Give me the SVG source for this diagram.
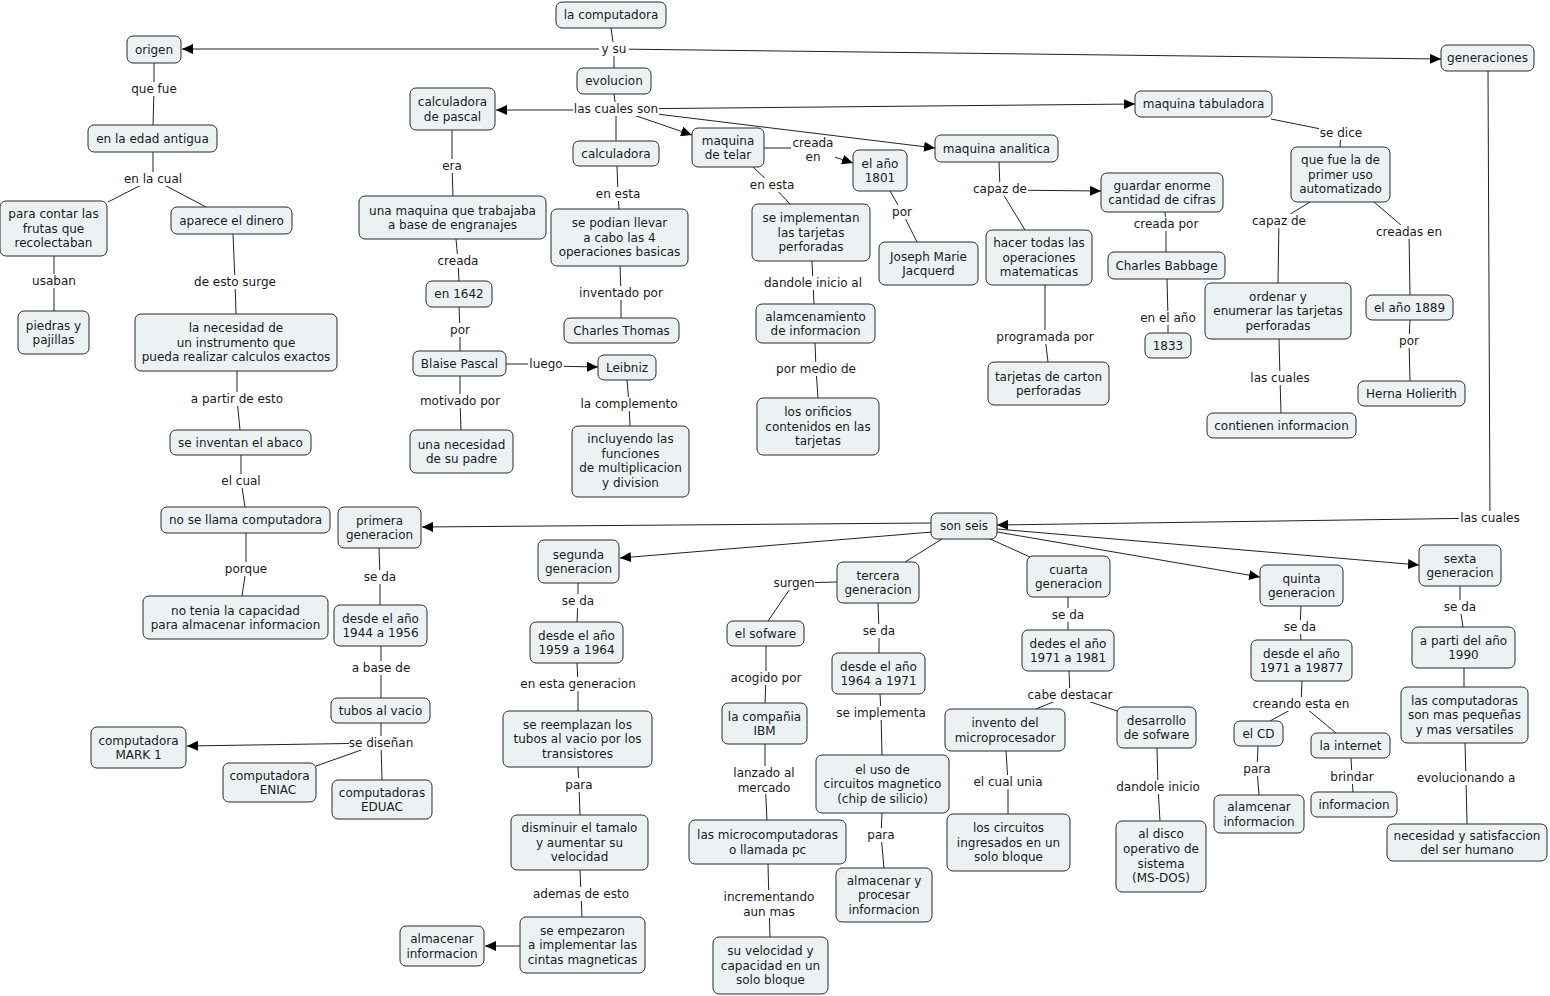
<svg xmlns="http://www.w3.org/2000/svg" width="1550" height="996" viewBox="0 0 1550 996">
<style>
text{font-family:"DejaVu Sans",Verdana,sans-serif;font-size:12px;fill:#1a1a1a;text-anchor:middle}
.n rect{fill:#ECF2F4;stroke:#2b2b2b;stroke-width:1}
.lp rect{fill:#ffffff}
#connectors line{stroke:#222;stroke-width:1;fill:none}
#connectors line.a{marker-end:url(#ar)}
</style>
<defs>
<marker id="ar" markerUnits="userSpaceOnUse" markerWidth="12" markerHeight="10" refX="11" refY="5" orient="auto"><path d="M0,0 L11,5 L0,10 z" fill="#000"/></marker>
</defs>
<rect width="1550" height="996" fill="#fff"/>
<g id="connectors">
<line x1="611" y1="28" x2="614" y2="49"/>
<line class="a" x1="614" y1="49" x2="182" y2="49"/>
<line x1="614" y1="49" x2="614" y2="68"/>
<line class="a" x1="614" y1="49" x2="1441" y2="59"/>
<line x1="154" y1="63" x2="154" y2="89"/>
<line x1="154" y1="89" x2="153" y2="125"/>
<line x1="153" y1="152" x2="153" y2="179"/>
<line x1="153" y1="179" x2="108" y2="202"/>
<line x1="153" y1="179" x2="206" y2="207"/>
<line x1="54" y1="256" x2="54" y2="281"/>
<line x1="54" y1="281" x2="54" y2="311"/>
<line x1="233" y1="234" x2="235" y2="282"/>
<line x1="235" y1="282" x2="236" y2="314"/>
<line x1="237" y1="371" x2="237" y2="399"/>
<line x1="237" y1="399" x2="240" y2="430"/>
<line x1="241" y1="455" x2="241" y2="481"/>
<line x1="241" y1="481" x2="245" y2="507"/>
<line x1="246" y1="533" x2="246" y2="569"/>
<line x1="246" y1="569" x2="242" y2="596"/>
<line x1="614" y1="94" x2="616" y2="109"/>
<line class="a" x1="616" y1="110" x2="496" y2="110"/>
<line x1="616" y1="109" x2="616" y2="141"/>
<line class="a" x1="616" y1="109" x2="692" y2="135"/>
<line class="a" x1="616" y1="109" x2="935" y2="148"/>
<line class="a" x1="616" y1="109" x2="1135" y2="104"/>
<line x1="452" y1="130" x2="452" y2="166"/>
<line x1="452" y1="166" x2="453" y2="196"/>
<line x1="456" y1="239" x2="458" y2="261"/>
<line x1="458" y1="261" x2="459" y2="281"/>
<line x1="459" y1="307" x2="460" y2="330"/>
<line x1="460" y1="330" x2="460" y2="351"/>
<line x1="506" y1="364" x2="546" y2="364"/>
<line class="a" x1="546" y1="366" x2="598" y2="367"/>
<line x1="460" y1="376" x2="460" y2="401"/>
<line x1="460" y1="401" x2="461" y2="430"/>
<line x1="627" y1="380" x2="629" y2="404"/>
<line x1="629" y1="404" x2="630" y2="426"/>
<line x1="617" y1="166" x2="618" y2="194"/>
<line x1="618" y1="194" x2="619" y2="209"/>
<line x1="620" y1="266" x2="621" y2="293"/>
<line x1="621" y1="293" x2="621" y2="318"/>
<line x1="764" y1="148" x2="813" y2="148"/>
<line class="a" x1="813" y1="150" x2="853" y2="163"/>
<line x1="753" y1="167" x2="772" y2="185"/>
<line x1="772" y1="185" x2="790" y2="204"/>
<line x1="812" y1="261" x2="813" y2="283"/>
<line x1="813" y1="283" x2="814" y2="304"/>
<line x1="815" y1="343" x2="816" y2="369"/>
<line x1="816" y1="369" x2="818" y2="398"/>
<line x1="890" y1="191" x2="902" y2="212"/>
<line x1="902" y1="212" x2="917" y2="242"/>
<line x1="999" y1="162" x2="1000" y2="189"/>
<line class="a" x1="1000" y1="190" x2="1101" y2="191"/>
<line x1="1000" y1="189" x2="1025" y2="230"/>
<line x1="1165" y1="212" x2="1166" y2="224"/>
<line x1="1166" y1="224" x2="1166" y2="252"/>
<line x1="1167" y1="279" x2="1168" y2="318"/>
<line x1="1168" y1="318" x2="1168" y2="333"/>
<line x1="1045" y1="285" x2="1045" y2="337"/>
<line x1="1045" y1="337" x2="1048" y2="362"/>
<line x1="1271" y1="119" x2="1341" y2="133"/>
<line x1="1341" y1="133" x2="1340" y2="147"/>
<line x1="1310" y1="202" x2="1279" y2="221"/>
<line x1="1279" y1="221" x2="1278" y2="283"/>
<line x1="1374" y1="202" x2="1409" y2="232"/>
<line x1="1409" y1="232" x2="1410" y2="295"/>
<line x1="1410" y1="320" x2="1409" y2="341"/>
<line x1="1409" y1="341" x2="1410" y2="381"/>
<line x1="1279" y1="339" x2="1280" y2="378"/>
<line x1="1280" y1="378" x2="1281" y2="413"/>
<line x1="1488" y1="71" x2="1490" y2="518"/>
<line class="a" x1="1490" y1="518" x2="997" y2="525"/>
<line class="a" x1="931" y1="523" x2="422" y2="527"/>
<line class="a" x1="932" y1="532" x2="620" y2="558"/>
<line x1="942" y1="539" x2="905" y2="562"/>
<line x1="988" y1="538" x2="1030" y2="557"/>
<line class="a" x1="997" y1="532" x2="1260" y2="577"/>
<line class="a" x1="997" y1="529" x2="1419" y2="565"/>
<line x1="379" y1="548" x2="380" y2="577"/>
<line x1="380" y1="577" x2="380" y2="605"/>
<line x1="381" y1="646" x2="381" y2="668"/>
<line x1="381" y1="668" x2="381" y2="698"/>
<line x1="381" y1="723" x2="381" y2="743"/>
<line class="a" x1="381" y1="743" x2="187" y2="746"/>
<line x1="381" y1="743" x2="316" y2="766"/>
<line x1="381" y1="743" x2="382" y2="780"/>
<line x1="578" y1="583" x2="578" y2="601"/>
<line x1="578" y1="601" x2="577" y2="622"/>
<line x1="577" y1="663" x2="578" y2="684"/>
<line x1="578" y1="684" x2="578" y2="711"/>
<line x1="578" y1="767" x2="579" y2="785"/>
<line x1="579" y1="785" x2="580" y2="815"/>
<line x1="580" y1="870" x2="581" y2="894"/>
<line x1="581" y1="894" x2="582" y2="917"/>
<line class="a" x1="520" y1="946" x2="485" y2="946"/>
<line x1="837" y1="582" x2="794" y2="583"/>
<line x1="794" y1="583" x2="768" y2="621"/>
<line x1="878" y1="603" x2="879" y2="631"/>
<line x1="879" y1="631" x2="879" y2="653"/>
<line x1="766" y1="646" x2="766" y2="678"/>
<line x1="766" y1="678" x2="765" y2="703"/>
<line x1="765" y1="744" x2="765" y2="780"/>
<line x1="765" y1="780" x2="767" y2="820"/>
<line x1="768" y1="864" x2="769" y2="904"/>
<line x1="769" y1="904" x2="770" y2="937"/>
<line x1="880" y1="694" x2="881" y2="713"/>
<line x1="881" y1="713" x2="882" y2="755"/>
<line x1="882" y1="813" x2="881" y2="835"/>
<line x1="881" y1="835" x2="884" y2="868"/>
<line x1="1068" y1="597" x2="1068" y2="615"/>
<line x1="1068" y1="615" x2="1068" y2="630"/>
<line x1="1069" y1="671" x2="1070" y2="695"/>
<line x1="1070" y1="695" x2="1036" y2="709"/>
<line x1="1070" y1="695" x2="1126" y2="714"/>
<line x1="1006" y1="751" x2="1008" y2="782"/>
<line x1="1008" y1="782" x2="1008" y2="814"/>
<line x1="1157" y1="748" x2="1158" y2="787"/>
<line x1="1158" y1="787" x2="1160" y2="821"/>
<line x1="1301" y1="606" x2="1300" y2="627"/>
<line x1="1300" y1="627" x2="1301" y2="640"/>
<line x1="1302" y1="681" x2="1301" y2="704"/>
<line x1="1301" y1="704" x2="1270" y2="721"/>
<line x1="1301" y1="704" x2="1336" y2="733"/>
<line x1="1258" y1="746" x2="1257" y2="769"/>
<line x1="1257" y1="769" x2="1259" y2="795"/>
<line x1="1351" y1="758" x2="1352" y2="777"/>
<line x1="1352" y1="777" x2="1353" y2="792"/>
<line x1="1460" y1="586" x2="1460" y2="607"/>
<line x1="1460" y1="607" x2="1463" y2="627"/>
<line x1="1464" y1="668" x2="1464" y2="687"/>
<line x1="1465" y1="743" x2="1466" y2="778"/>
<line x1="1466" y1="778" x2="1467" y2="824"/>
</g>
<g id="linking-phrases">
<g class="lp"><rect x="599" y="42" width="30" height="14"/><text x="614" y="53">y su</text></g>
<g class="lp"><rect x="130" y="82" width="48" height="14"/><text x="154" y="93">que fue</text></g>
<g class="lp"><rect x="122" y="172" width="62" height="14"/><text x="153" y="183">en la cual</text></g>
<g class="lp"><rect x="31" y="274" width="46" height="14"/><text x="54" y="285">usaban</text></g>
<g class="lp"><rect x="193" y="275" width="84" height="14"/><text x="235" y="286">de esto surge</text></g>
<g class="lp"><rect x="189" y="392" width="96" height="14"/><text x="237" y="403">a partir de esto</text></g>
<g class="lp"><rect x="220" y="474" width="42" height="14"/><text x="241" y="485">el cual</text></g>
<g class="lp"><rect x="224" y="562" width="44" height="14"/><text x="246" y="573">porque</text></g>
<g class="lp"><rect x="573" y="102" width="86" height="14"/><text x="616" y="113">las cuales son</text></g>
<g class="lp"><rect x="441" y="159" width="22" height="14"/><text x="452" y="170">era</text></g>
<g class="lp"><rect x="436" y="254" width="44" height="14"/><text x="458" y="265">creada</text></g>
<g class="lp"><rect x="449" y="323" width="22" height="14"/><text x="460" y="334">por</text></g>
<g class="lp"><rect x="528" y="357" width="36" height="14"/><text x="546" y="368">luego</text></g>
<g class="lp"><rect x="420" y="394" width="80" height="14"/><text x="460" y="405">motivado por</text></g>
<g class="lp"><rect x="583" y="397" width="92" height="14"/><text x="629" y="408">la complemento</text></g>
<g class="lp"><rect x="595" y="187" width="46" height="14"/><text x="618" y="198">en esta</text></g>
<g class="lp"><rect x="579" y="286" width="84" height="14"/><text x="621" y="297">inventado por</text></g>
<g class="lp"><rect x="791" y="136" width="44" height="28"/><text x="813" y="147">creada</text><text x="813" y="161">en</text></g>
<g class="lp"><rect x="749" y="178" width="46" height="14"/><text x="772" y="189">en esta</text></g>
<g class="lp"><rect x="891" y="205" width="22" height="14"/><text x="902" y="216">por</text></g>
<g class="lp"><rect x="761" y="276" width="104" height="14"/><text x="813" y="287">dandole inicio al</text></g>
<g class="lp"><rect x="777" y="362" width="78" height="14"/><text x="816" y="373">por medio de</text></g>
<g class="lp"><rect x="972" y="182" width="56" height="14"/><text x="1000" y="193">capaz de</text></g>
<g class="lp"><rect x="1133" y="217" width="66" height="14"/><text x="1166" y="228">creada por</text></g>
<g class="lp"><rect x="1139" y="311" width="58" height="14"/><text x="1168" y="322">en el año</text></g>
<g class="lp"><rect x="999" y="330" width="92" height="14"/><text x="1045" y="341">programada por</text></g>
<g class="lp"><rect x="1319" y="126" width="44" height="14"/><text x="1341" y="137">se dice</text></g>
<g class="lp"><rect x="1251" y="214" width="56" height="14"/><text x="1279" y="225">capaz de</text></g>
<g class="lp"><rect x="1376" y="225" width="66" height="14"/><text x="1409" y="236">creadas en</text></g>
<g class="lp"><rect x="1398" y="334" width="22" height="14"/><text x="1409" y="345">por</text></g>
<g class="lp"><rect x="1249" y="371" width="62" height="14"/><text x="1280" y="382">las cuales</text></g>
<g class="lp"><rect x="1459" y="511" width="62" height="14"/><text x="1490" y="522">las cuales</text></g>
<g class="lp"><rect x="363" y="570" width="34" height="14"/><text x="380" y="581">se da</text></g>
<g class="lp"><rect x="352" y="661" width="58" height="14"/><text x="381" y="672">a base de</text></g>
<g class="lp"><rect x="349" y="736" width="64" height="14"/><text x="381" y="747">se diseñan</text></g>
<g class="lp"><rect x="561" y="594" width="34" height="14"/><text x="578" y="605">se da</text></g>
<g class="lp"><rect x="522" y="677" width="112" height="14"/><text x="578" y="688">en esta generacion</text></g>
<g class="lp"><rect x="565" y="778" width="28" height="14"/><text x="579" y="789">para</text></g>
<g class="lp"><rect x="536" y="887" width="90" height="14"/><text x="581" y="898">ademas de esto</text></g>
<g class="lp"><rect x="773" y="576" width="42" height="14"/><text x="794" y="587">surgen</text></g>
<g class="lp"><rect x="862" y="624" width="34" height="14"/><text x="879" y="635">se da</text></g>
<g class="lp"><rect x="731" y="671" width="70" height="14"/><text x="766" y="682">acogido por</text></g>
<g class="lp"><rect x="732" y="766" width="64" height="28"/><text x="764" y="777">lanzado al</text><text x="764" y="792">mercado</text></g>
<g class="lp"><rect x="725" y="890" width="88" height="28"/><text x="769" y="901">incrementando</text><text x="769" y="916">aun mas</text></g>
<g class="lp"><rect x="838" y="706" width="86" height="14"/><text x="881" y="717">se implementa</text></g>
<g class="lp"><rect x="867" y="828" width="28" height="14"/><text x="881" y="839">para</text></g>
<g class="lp"><rect x="1051" y="608" width="34" height="14"/><text x="1068" y="619">se da</text></g>
<g class="lp"><rect x="1029" y="688" width="82" height="14"/><text x="1070" y="699">cabe destacar</text></g>
<g class="lp"><rect x="972" y="775" width="72" height="14"/><text x="1008" y="786">el cual unia</text></g>
<g class="lp"><rect x="1115" y="780" width="86" height="14"/><text x="1158" y="791">dandole inicio</text></g>
<g class="lp"><rect x="1283" y="620" width="34" height="14"/><text x="1300" y="631">se da</text></g>
<g class="lp"><rect x="1253" y="697" width="96" height="14"/><text x="1301" y="708">creando esta en</text></g>
<g class="lp"><rect x="1243" y="762" width="28" height="14"/><text x="1257" y="773">para</text></g>
<g class="lp"><rect x="1329" y="770" width="46" height="14"/><text x="1352" y="781">brindar</text></g>
<g class="lp"><rect x="1443" y="600" width="34" height="14"/><text x="1460" y="611">se da</text></g>
<g class="lp"><rect x="1418" y="771" width="96" height="14"/><text x="1466" y="782">evolucionando a</text></g>
</g>
<g id="n1" class="n"><rect x="556" y="2" width="110" height="26" rx="6"/><text x="611" y="19">la computadora</text></g>
<g id="n2" class="n"><rect x="127" y="36" width="54" height="27" rx="6"/><text x="154" y="53.5">origen</text></g>
<g id="n3" class="n"><rect x="1441" y="45" width="93" height="26" rx="6"/><text x="1487.5" y="62">generaciones</text></g>
<g id="n4" class="n"><rect x="577" y="68" width="74" height="26" rx="6"/><text x="614" y="85">evolucion</text></g>
<g id="n5" class="n"><rect x="410" y="88" width="85" height="42" rx="6"/><text x="452.5" y="106">calculadora</text><text x="452.5" y="120.6">de pascal</text></g>
<g id="n6" class="n"><rect x="1135" y="91" width="137" height="26" rx="6"/><text x="1203.5" y="108">maquina tabuladora</text></g>
<g id="n7" class="n"><rect x="88" y="125" width="129" height="27" rx="6"/><text x="152.5" y="142.5">en la edad antigua</text></g>
<g id="n8" class="n"><rect x="573" y="141" width="86" height="25" rx="6"/><text x="616" y="157.5">calculadora</text></g>
<g id="n9" class="n"><rect x="692" y="128" width="72" height="39" rx="6"/><text x="728" y="144.5">maquina</text><text x="728" y="159.1">de telar</text></g>
<g id="n10" class="n"><rect x="853" y="150" width="54" height="41" rx="6"/><text x="880" y="167.5">el año</text><text x="880" y="182">1801</text></g>
<g id="n11" class="n"><rect x="935" y="135" width="123" height="27" rx="6"/><text x="996.5" y="152.5">maquina analitica</text></g>
<g id="n12" class="n"><rect x="1101" y="173" width="122" height="39" rx="6"/><text x="1162" y="189.5">guardar enorme</text><text x="1162" y="204">cantidad de cifras</text></g>
<g id="n13" class="n"><rect x="1291" y="147" width="99" height="55" rx="6"/><text x="1340.5" y="164.2">que fue la de</text><text x="1340.5" y="178.8">primer uso</text><text x="1340.5" y="193.4">automatizado</text></g>
<g id="n14" class="n"><rect x="0" y="201" width="107" height="55" rx="6"/><text x="53.5" y="218.2">para contar las</text><text x="53.5" y="232.8">frutas que</text><text x="53.5" y="247.4">recolectaban</text></g>
<g id="n15" class="n"><rect x="171" y="207" width="121" height="27" rx="6"/><text x="231.5" y="224.5">aparece el dinero</text></g>
<g id="n16" class="n"><rect x="359" y="196" width="187" height="43" rx="6"/><text x="452.5" y="214.5">una maquina que trabajaba</text><text x="452.5" y="229.1">a base de engranajes</text></g>
<g id="n17" class="n"><rect x="551" y="209" width="137" height="57" rx="6"/><text x="619.5" y="227.2">se podian llevar</text><text x="619.5" y="241.8">a cabo las 4</text><text x="619.5" y="256.4">operaciones basicas</text></g>
<g id="n18" class="n"><rect x="752" y="204" width="118" height="57" rx="6"/><text x="811" y="222.2">se implementan</text><text x="811" y="236.8">las tarjetas</text><text x="811" y="251.4">perforadas</text></g>
<g id="n19" class="n"><rect x="879" y="242" width="99" height="43" rx="6"/><text x="928.5" y="260.5">Joseph Marie</text><text x="928.5" y="275.1">Jacquerd</text></g>
<g id="n20" class="n"><rect x="986" y="230" width="106" height="55" rx="6"/><text x="1039" y="247.2">hacer todas las</text><text x="1039" y="261.8">operaciones</text><text x="1039" y="276.4">matematicas</text></g>
<g id="n21" class="n"><rect x="1108" y="252" width="117" height="27" rx="6"/><text x="1166.5" y="269.5">Charles Babbage</text></g>
<g id="n22" class="n"><rect x="1205" y="283" width="146" height="56" rx="6"/><text x="1278" y="300.7">ordenar y</text><text x="1278" y="315.3">enumerar las tarjetas</text><text x="1278" y="329.9">perforadas</text></g>
<g id="n23" class="n"><rect x="1366" y="295" width="87" height="25" rx="6"/><text x="1409.5" y="311.5">el año 1889</text></g>
<g id="n24" class="n"><rect x="18" y="311" width="71" height="43" rx="6"/><text x="53.5" y="329.5">piedras y</text><text x="53.5" y="344.1">pajillas</text></g>
<g id="n25" class="n"><rect x="135" y="314" width="202" height="57" rx="6"/><text x="236" y="332.2">la necesidad de</text><text x="236" y="346.8">un instrumento que</text><text x="236" y="361.4">pueda realizar calculos exactos</text></g>
<g id="n26" class="n"><rect x="426" y="281" width="66" height="26" rx="6"/><text x="459" y="298">en 1642</text></g>
<g id="n27" class="n"><rect x="564" y="318" width="115" height="25" rx="6"/><text x="621.5" y="334.5">Charles Thomas</text></g>
<g id="n28" class="n"><rect x="756" y="304" width="119" height="39" rx="6"/><text x="815.5" y="320.5">alamcenamiento</text><text x="815.5" y="335.1">de informacion</text></g>
<g id="n29" class="n"><rect x="1145" y="333" width="46" height="25" rx="6"/><text x="1168" y="349.5">1833</text></g>
<g id="n30" class="n"><rect x="988" y="362" width="121" height="43" rx="6"/><text x="1048.5" y="380.5">tarjetas de carton</text><text x="1048.5" y="395.1">perforadas</text></g>
<g id="n31" class="n"><rect x="413" y="351" width="93" height="25" rx="6"/><text x="459.5" y="367.5">Blaise Pascal</text></g>
<g id="n32" class="n"><rect x="598" y="355" width="58" height="25" rx="6"/><text x="627" y="371.5">Leibniz</text></g>
<g id="n33" class="n"><rect x="1358" y="381" width="107" height="25" rx="6"/><text x="1411.5" y="397.5">Herna Holierith</text></g>
<g id="n34" class="n"><rect x="1207" y="413" width="149" height="25" rx="6"/><text x="1281.5" y="429.5">contienen informacion</text></g>
<g id="n35" class="n"><rect x="170" y="430" width="141" height="25" rx="6"/><text x="240.5" y="446.5">se inventan el abaco</text></g>
<g id="n36" class="n"><rect x="410" y="430" width="103" height="43" rx="6"/><text x="461.5" y="448.5">una necesidad</text><text x="461.5" y="463.1">de su padre</text></g>
<g id="n37" class="n"><rect x="572" y="426" width="117" height="71" rx="6"/><text x="630.5" y="443">incluyendo las</text><text x="630.5" y="457.6">funciones</text><text x="630.5" y="472.2">de multiplicacion</text><text x="630.5" y="486.8">y division</text></g>
<g id="n38" class="n"><rect x="757" y="398" width="122" height="57" rx="6"/><text x="818" y="416.2">los orificios</text><text x="818" y="430.8">contenidos en las</text><text x="818" y="445.4">tarjetas</text></g>
<g id="n39" class="n"><rect x="161" y="507" width="169" height="26" rx="6"/><text x="245.5" y="524">no se llama computadora</text></g>
<g id="n40" class="n"><rect x="338" y="507" width="83" height="41" rx="6"/><text x="379.5" y="524.5">primera</text><text x="379.5" y="539.1">generacion</text></g>
<g id="n41" class="n"><rect x="931" y="513" width="66" height="26" rx="6"/><text x="964" y="530">son seis</text></g>
<g id="n42" class="n"><rect x="538" y="540" width="81" height="43" rx="6"/><text x="578.5" y="558.5">segunda</text><text x="578.5" y="573.1">generacion</text></g>
<g id="n43" class="n"><rect x="837" y="562" width="82" height="41" rx="6"/><text x="878" y="579.5">tercera</text><text x="878" y="594.1">generacion</text></g>
<g id="n44" class="n"><rect x="1027" y="556" width="83" height="41" rx="6"/><text x="1068.5" y="573.5">cuarta</text><text x="1068.5" y="588.1">generacion</text></g>
<g id="n45" class="n"><rect x="1260" y="565" width="83" height="41" rx="6"/><text x="1301.5" y="582.5">quinta</text><text x="1301.5" y="597.1">generacion</text></g>
<g id="n46" class="n"><rect x="1419" y="545" width="82" height="41" rx="6"/><text x="1460" y="562.5">sexta</text><text x="1460" y="577.1">generacion</text></g>
<g id="n47" class="n"><rect x="143" y="596" width="185" height="43" rx="6"/><text x="235.5" y="614.5">no tenia la capacidad</text><text x="235.5" y="629.1">para almacenar informacion</text></g>
<g id="n48" class="n"><rect x="334" y="605" width="93" height="41" rx="6"/><text x="380.5" y="622.5">desde el año</text><text x="380.5" y="637.1">1944 a 1956</text></g>
<g id="n49" class="n"><rect x="530" y="622" width="93" height="41" rx="6"/><text x="576.5" y="639.5">desde el año</text><text x="576.5" y="654.1">1959 a 1964</text></g>
<g id="n50" class="n"><rect x="727" y="621" width="77" height="25" rx="6"/><text x="765.5" y="637.5">el sofware</text></g>
<g id="n51" class="n"><rect x="832" y="653" width="93" height="41" rx="6"/><text x="878.5" y="670.5">desde el año</text><text x="878.5" y="685.1">1964 a 1971</text></g>
<g id="n52" class="n"><rect x="1022" y="630" width="92" height="41" rx="6"/><text x="1068" y="647.5">dedes el año</text><text x="1068" y="662.1">1971 a 1981</text></g>
<g id="n53" class="n"><rect x="1251" y="640" width="101" height="41" rx="6"/><text x="1301.5" y="657.5">desde el año</text><text x="1301.5" y="672.1">1971 a 19877</text></g>
<g id="n54" class="n"><rect x="1412" y="627" width="103" height="41" rx="6"/><text x="1463.5" y="644.5">a parti del año</text><text x="1463.5" y="659.1">1990</text></g>
<g id="n55" class="n"><rect x="331" y="698" width="99" height="25" rx="6"/><text x="380.5" y="714.5">tubos al vacio</text></g>
<g id="n56" class="n"><rect x="722" y="703" width="85" height="41" rx="6"/><text x="764.5" y="720.5">la compañia</text><text x="764.5" y="735.1">IBM</text></g>
<g id="n57" class="n"><rect x="945" y="709" width="120" height="42" rx="6"/><text x="1005" y="727">invento del</text><text x="1005" y="741.6">microprocesador</text></g>
<g id="n58" class="n"><rect x="1117" y="707" width="79" height="41" rx="6"/><text x="1156.5" y="724.5">desarrollo</text><text x="1156.5" y="739.1">de sofware</text></g>
<g id="n59" class="n"><rect x="1234" y="721" width="49" height="25" rx="6"/><text x="1258.5" y="737.5">el CD</text></g>
<g id="n60" class="n"><rect x="1311" y="733" width="79" height="25" rx="6"/><text x="1350.5" y="749.5">la internet</text></g>
<g id="n61" class="n"><rect x="1401" y="687" width="127" height="56" rx="6"/><text x="1464.5" y="704.7">las computadoras</text><text x="1464.5" y="719.3">son mas pequeñas</text><text x="1464.5" y="733.9">y mas versatiles</text></g>
<g id="n62" class="n"><rect x="91" y="727" width="95" height="41" rx="6"/><text x="138.5" y="744.5">computadora</text><text x="138.5" y="759.1">MARK 1</text></g>
<g id="n63" class="n"><rect x="223" y="763" width="93" height="39" rx="6"/><text x="269.5" y="779.5">computadora</text><text x="278" y="794.1">ENIAC</text></g>
<g id="n64" class="n"><rect x="332" y="780" width="100" height="39" rx="6"/><text x="382" y="796.5">computadoras</text><text x="382" y="811.1">EDUAC</text></g>
<g id="n65" class="n"><rect x="503" y="711" width="149" height="56" rx="6"/><text x="577.5" y="728.7">se reemplazan los</text><text x="577.5" y="743.3">tubos al vacio por los</text><text x="577.5" y="757.9">transistores</text></g>
<g id="n66" class="n"><rect x="816" y="755" width="133" height="58" rx="6"/><text x="882.5" y="773.7">el uso de</text><text x="882.5" y="788.3">circuitos magnetico</text><text x="882.5" y="802.9">(chip de silicio)</text></g>
<g id="n67" class="n"><rect x="689" y="820" width="157" height="44" rx="6"/><text x="767.5" y="839">las microcomputadoras</text><text x="767.5" y="853.6">o llamada pc</text></g>
<g id="n68" class="n"><rect x="947" y="814" width="123" height="57" rx="6"/><text x="1008.5" y="832.2">los circuitos</text><text x="1008.5" y="846.8">ingresados en un</text><text x="1008.5" y="861.4">solo bloque</text></g>
<g id="n69" class="n"><rect x="1116" y="821" width="90" height="71" rx="6"/><text x="1161" y="838.4">al disco</text><text x="1161" y="853">operativo de</text><text x="1161" y="867.6">sistema</text><text x="1161" y="882.2">(MS-DOS)</text></g>
<g id="n70" class="n"><rect x="1214" y="795" width="90" height="38" rx="6"/><text x="1259" y="811">alamcenar</text><text x="1259" y="825.6">informacion</text></g>
<g id="n71" class="n"><rect x="1311" y="792" width="86" height="25" rx="6"/><text x="1354" y="808.5">informacion</text></g>
<g id="n72" class="n"><rect x="1387" y="824" width="160" height="37" rx="6"/><text x="1467" y="839.5">necesidad y satisfaccion</text><text x="1467" y="854.1">del ser humano</text></g>
<g id="n73" class="n"><rect x="511" y="815" width="137" height="55" rx="6"/><text x="579.5" y="832.2">disminuir el tamalo</text><text x="579.5" y="846.8">y aumentar su</text><text x="579.5" y="861.4">velocidad</text></g>
<g id="n74" class="n"><rect x="836" y="868" width="96" height="54" rx="6"/><text x="884" y="884.7">almacenar y</text><text x="884" y="899.3">procesar</text><text x="884" y="913.9">informacion</text></g>
<g id="n75" class="n"><rect x="520" y="917" width="125" height="56" rx="6"/><text x="582.5" y="934.7">se empezaron</text><text x="582.5" y="949.3">a implementar las</text><text x="582.5" y="963.9">cintas magneticas</text></g>
<g id="n76" class="n"><rect x="400" y="926" width="84" height="40" rx="6"/><text x="442" y="943">almacenar</text><text x="442" y="957.6">informacion</text></g>
<g id="n77" class="n"><rect x="713" y="937" width="115" height="57" rx="6"/><text x="770.5" y="955.2">su velocidad y</text><text x="770.5" y="969.8">capacidad en un</text><text x="770.5" y="984.4">solo bloque</text></g>
</svg>
